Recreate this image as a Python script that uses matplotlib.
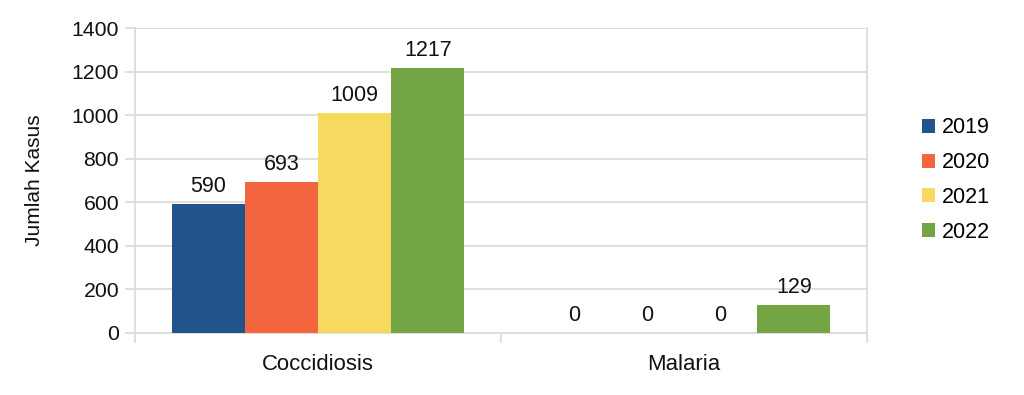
import matplotlib
matplotlib.use("Agg")
import matplotlib.pyplot as plt
import numpy as np
from matplotlib.patches import Patch

plt.rcParams['font.family'] = ['Liberation Sans', 'DejaVu Sans']

categories = ["Coccidiosis", "Malaria"]
years = ["2019", "2020", "2021", "2022"]
values_2019 = [590, 0]
values_2020 = [693, 0]
values_2021 = [1009, 0]
values_2022 = [1217, 129]
colors = ["#22548c", "#f2653f", "#f8d960", "#73a545"]
y_ticks = [0, 200, 400, 600, 800, 1000, 1200, 1400]

series = [values_2019, values_2020, values_2021, values_2022]

fig = plt.figure(figsize=(10.24, 3.95), dpi=100)
ax = fig.add_axes([135/1024, 1-333/395, (867-135)/1024, (333-28)/395])

grid_c = "#d9d9d9"
x = np.arange(len(categories))
w = 0.2
for i, (yr, vals) in enumerate(zip(years, series)):
    pos = x + (i - 1.5) * w
    ax.bar(pos, vals, width=w, color=colors[i], label=yr, zorder=3)
    for p, v in zip(pos, vals):
        ax.text(p, v + 32, str(v), ha='center', va='bottom', fontsize=15.5, color='#111111', zorder=4)

ax.set_xlim(-0.5, 1.5)
ax.set_ylim(0, 1400)
ax.set_yticks(y_ticks)
ax.set_yticklabels([str(t) for t in y_ticks], fontsize=15.3)
ax.yaxis.grid(True, color=grid_c, linewidth=1.2, zorder=0)
ax.tick_params(axis='y', length=7.5, width=1.2, color=grid_c, pad=4, labelcolor='#111111')

ax.set_xticks([-0.5, 0.5, 1.5])
ax.set_xticklabels([])
ax.set_xticks(x, minor=True)
ax.set_xticklabels(categories, minor=True, fontsize=15.9, color='#111111')
ax.tick_params(axis='x', which='major', length=7, width=1.2, color=grid_c)
ax.tick_params(axis='x', which='minor', length=0, pad=15)

for s in ['top']:
    ax.spines[s].set_visible(False)
for s in ['left', 'right', 'bottom']:
    ax.spines[s].set_color(grid_c)
    ax.spines[s].set_linewidth(1.2)

ax.set_ylabel("Jumlah Kasus", fontsize=15, color='#111111', labelpad=20)

handles = [Patch(facecolor=c, edgecolor='none') for c in colors]
fig.legend(handles, years, loc='center left', bbox_to_anchor=(913/1024, 1-180/395),
           frameon=False, fontsize=15.5, handlelength=0.62, handleheight=0.62,
           handletextpad=0.32, labelspacing=0.64, borderaxespad=0)

fig.savefig("out.png", dpi=100, facecolor='white')
